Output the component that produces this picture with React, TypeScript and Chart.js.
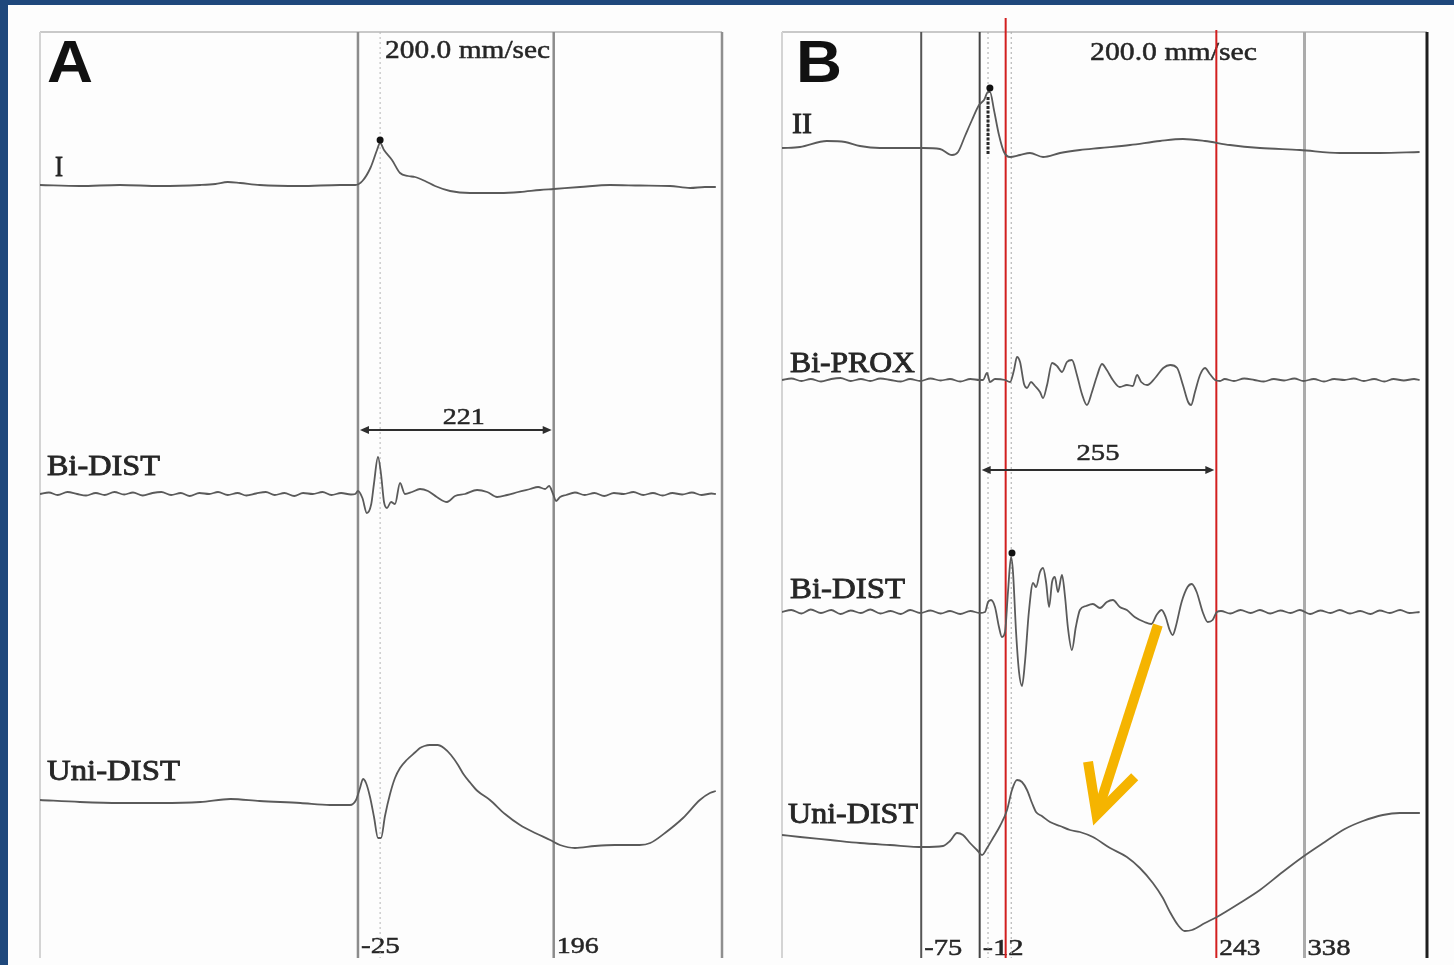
import React, { useEffect, useRef } from "react";
import { Chart, registerables } from "chart.js";

Chart.register(...registerables);

type Pt = [number, number]; // [time ms, amplitude]

// ---------------- Panel A ----------------
const A_TIME: [number, number] = [-384, 386];
const A_NAMES = ["I", "Bi-DIST", "Uni-DIST"];
const A_OFFSETS = [775, 466, 158];
const A_MARKS = [-25, 196];
const A_REF = [0];

const A_I: Pt[] = [
  [-384, 0], [-339, -1], [-294, 0], [-248, -1], [-203, 0], [-186, 1], [-172, 3], [-158, 2],
  [-136, 0], [-90, -1], [-45, 0], [-28, 0], [-20, 4], [-11, 17], [-3.5, 35], [0, 42],
  [4.4, 35], [13.4, 25], [22.5, 12], [31.5, 9], [39.4, 8], [50.7, 4], [62, -1], [79, -6],
  [101.5, -8], [135.4, -8], [158, -7], [180.5, -5], [196, -4], [225.7, -2], [259.6, 0],
  [293.4, -0.5], [327.3, -1], [350, -3], [366.8, -2], [379, -2],
];

const A_BI_DIST: Pt[] = [
  [-384, 0], [-374, 1.5], [-364, -1], [-353, 2], [-342, 0], [-332, -1.5], [-321, 1], [-311, -1],
  [-300, 2], [-289, -0.5], [-279, 1.5], [-268, -1.5], [-257, 1], [-247, 2], [-236, -1], [-225, 1],
  [-215, -2], [-204, 1], [-193, 0], [-183, 2], [-172, -1], [-161, 1], [-151, -1.5], [-140, 0.5],
  [-129, 2], [-119, -1], [-108, 1], [-97, -2], [-87, 1], [-76, 0], [-65, 2], [-55, -1], [-44, 1],
  [-33, -0.5], [-28, 0], [-25, 3], [-20, -4], [-15, -19], [-10, -10], [-7, 10], [-2.4, 37],
  [1, 20], [4.4, -8], [7.8, -14], [12.3, -8], [16.8, -10], [22.5, 11], [28, 0], [36, 2], [45, 5],
  [54, 3], [64, -3], [75.5, -8], [84.6, -2], [95.9, 0], [109.5, 4], [120.8, 2], [132, -3],
  [143.4, -1], [155.8, 2], [169.4, 5], [178.4, 7], [186.3, 5], [190.8, 8], [195.3, 0], [198.7, -7],
  [203.2, -3], [210, -1], [220, 1.5], [231, -1], [242, 1], [253, -2], [264, 1], [275, 0], [286, 2],
  [297, -1], [308, 1], [319, -1.5], [330, 1], [341, -0.5], [352, 1.5], [363, -1], [374, 0.5], [379, 0],
];

const A_UNI_DIST: Pt[] = [
  [-384, 2], [-339, 0], [-294, -1], [-248, -1], [-203, 0], [-169, 3], [-136, 1], [-90, -1],
  [-56.6, -3], [-34, -3], [-27.2, 2], [-22.7, 14], [-19.3, 23], [-15.9, 19], [-11.4, 5],
  [-6.9, -15], [-2.4, -36], [1, -36], [5.5, -14], [11.2, 8], [16.8, 24], [22.5, 34], [30, 42],
  [40, 50], [45, 54], [50, 56], [56, 57], [65, 57], [72, 54], [80, 47], [88, 37], [94, 28],
  [102, 19], [110, 11], [124, 2], [141, -12], [158, -23], [175, -31], [192, -38], [203, -43],
  [220, -46], [242.5, -44], [265, -43], [293, -43], [305, -41], [321.6, -31], [342, -16], [361, 2],
  [372.4, 9], [379, 11],
];

// ---------------- Panel B ----------------
const B_TIME: [number, number] = [-225, 470];
const B_NAMES = ["II", "Bi-PROX", "Bi-DIST", "Uni-DIST"];
const B_OFFSETS = [812, 580, 348, 115];
const B_MARKS = [-75, -12, 243, 338];
const B_RED = [16, 243];
const B_REF = [-3, 22];

const B_II: Pt[] = [
  [-225, 0], [-205.6, 1], [-176.7, 7], [-157, 6], [-141, 2], [-119.5, 0], [-73, 0], [-54.8, -1],
  [-41.8, -7], [-35.3, -4], [-27.8, 12], [-20.3, 28], [-12.7, 43], [-7.3, 48], [-3, 56], [-0.9, 56],
  [3.4, 38], [8.8, 13], [14.2, -4], [20.7, -9], [31.5, -7], [42.2, -5], [56.3, -9], [74.6, -5],
  [96, -2], [117.7, 0], [150, 3], [182.3, 7], [207, 9], [230.8, 7], [257.7, 3], [290, 0],
  [333, -2], [376, -5], [419, -5], [462, -4],
];

const B_BI_PROX: Pt[] = [
  [-225, 0], [-215, 1.5], [-204, -1], [-194, 1], [-183, -1.5], [-172, 1], [-162, 2], [-151, -1],
  [-140, 1], [-130, -1], [-119, 1.5], [-108, 0], [-97, -1.5], [-87, 1], [-76, -1], [-65, 1.5],
  [-54, -0.5], [-44, 1], [-33, -1.5], [-22, 1], [-12, 0], [-8.4, 0], [-4.1, 7], [-0.9, -2],
  [4.5, 1], [15.3, 0], [20.7, -2], [25, 10], [28.2, 23], [31.5, 18], [35.8, -4], [39, -8],
  [43.3, -2], [47.6, -6], [53, -12], [56.3, -18], [60.6, -5], [66, 17], [71.3, 14], [76.7, 8],
  [82, 18], [87.4, 20], [92.8, 5], [98.2, -14], [103.6, -25], [109, -12], [114.4, 4], [119.8, 16],
  [125, 10], [131.5, 0], [139, -7], [146.6, -5], [153, -6], [157.6, 5], [162, -2], [168.5, -5],
  [177, 2], [185.8, 12], [193.3, 15], [200.8, 12], [207, -5], [212.6, -22], [215.8, -25],
  [220, -12], [225.4, 5], [230.8, 12], [236, 6], [241.6, 0], [247, -1], [252, 1], [262, -1],
  [273, 1.5], [284, 0], [294, -1.5], [305, 1], [316, -0.5], [327, 1.5], [337, -1], [348, 1],
  [359, -1.5], [370, 1], [381, 0], [391, 1.5], [402, -1], [413, 1], [424, -1.5], [434, 1],
  [445, -0.5], [456, 1], [462, 0],
];

const B_BI_DIST: Pt[] = [
  [-225, 0], [-215, 2], [-204, -1.5], [-194, 2.5], [-183, -1], [-172, 2], [-162, -2], [-151, 1.5],
  [-140, -1], [-130, 2.5], [-119, -1.5], [-108, 1], [-97, -2], [-87, 2], [-76, -1], [-65, 1.5],
  [-54, -1.5], [-44, 1], [-33, -2], [-22, 1], [-12, -1], [-6.2, 0], [-3, 10], [0.2, 12], [4.5, 5],
  [8.8, -15], [12, -25], [15.3, -20], [18.5, 20], [21.8, 55], [23.9, 40], [27.2, -20], [30.4, -60],
  [33.6, -74], [36.8, -50], [41, 0], [45.5, 29], [48.7, 25], [53, 40], [56.3, 44], [59.5, 30],
  [62.8, 5], [66, 30], [69, 35], [72.3, 20], [76.7, 37], [80, 15], [83, -15], [87.4, -38],
  [91.6, -15], [96, 2], [102.5, 6], [110, 8], [117.6, 4], [125, 10], [131.5, 12], [139, 5],
  [146.6, 2], [155, -5], [165.6, -10], [173, -12], [178.6, -3], [184, 2], [188.4, -5], [192.7, -18],
  [196, -23], [199.2, -15], [205.6, 10], [212, 25], [216.5, 28], [221.8, 20], [228.3, 0],
  [233.7, -10], [239, -8], [243.6, 0], [248, 1], [258, -1.5], [269, 2], [280, -1], [290, 2],
  [301, -1.5], [312, 1.5], [323, -1], [333, 2], [344, -2], [355, 1.5], [366, -1], [376, 2],
  [387, -1.5], [398, 1], [409, -2], [419, 1.5], [430, -1], [441, 2], [451, -1], [462, 0],
];

const B_UNI_DIST: Pt[] = [
  [-225, 10], [-205.5, 8], [-173, 5], [-141, 2], [-108.7, 0], [-73, -2], [-51.5, -1], [-44, 4],
  [-36.4, 12], [-30, 10], [-22.4, 2], [-14.9, -5], [-9.5, -10], [-4, -3], [2.4, 7], [9.9, 19],
  [17.5, 35], [22.8, 55], [28.2, 65], [33.6, 63], [39, 55], [44.4, 42], [48.7, 33], [55, 29],
  [63.8, 23], [74.6, 19], [85.4, 15], [96, 13], [110, 8], [128.5, -3], [146.6, -12], [160.6, -23],
  [174.6, -38], [185.4, -53], [193, -67], [201.6, -80], [209, -86], [216.8, -85], [230.8, -78],
  [243.6, -72], [268.4, -58], [290, -45], [314.5, -27], [336, -12], [359.9, 3], [381.4, 16],
  [401, 24], [422.4, 30], [440.7, 32], [462.3, 32],
];

// ---------------- drawing helpers ----------------
const SERIF = '"Times New Roman", "Liberation Serif", serif';
const SANS = 'Arial, "Liberation Sans", sans-serif';
const TEXT = "#262626";
const TRACE = "#5a5a5a";

function fitText(
  ctx: CanvasRenderingContext2D,
  text: string,
  x: number,
  y: number,
  w: number,
  font: string,
  color = TEXT,
  center = false,
  weight = 0.5
) {
  ctx.save();
  ctx.font = font;
  ctx.textBaseline = "alphabetic";
  ctx.textAlign = "left";
  const m = ctx.measureText(text).width || 1;
  ctx.translate(x, y);
  ctx.scale(w / m, 1);
  ctx.fillStyle = color;
  ctx.fillText(text, center ? -m / 2 : 0, 0);
  if (weight > 0) {
    ctx.strokeStyle = color;
    ctx.lineWidth = weight;
    ctx.strokeText(text, center ? -m / 2 : 0, 0);
  }
  ctx.restore();
}

function vline(
  ctx: CanvasRenderingContext2D,
  x: number,
  y0: number,
  y1: number,
  color: string,
  width: number,
  dash: number[] = []
) {
  ctx.save();
  ctx.strokeStyle = color;
  ctx.lineWidth = width;
  ctx.setLineDash(dash);
  ctx.beginPath();
  ctx.moveTo(x, y0);
  ctx.lineTo(x, y1);
  ctx.stroke();
  ctx.restore();
}

function caliper(ctx: CanvasRenderingContext2D, x0: number, x1: number, y: number) {
  ctx.save();
  ctx.strokeStyle = "#2e2e2e";
  ctx.fillStyle = "#2e2e2e";
  ctx.lineWidth = 2;
  ctx.beginPath();
  ctx.moveTo(x0 + 4, y);
  ctx.lineTo(x1 - 4, y);
  ctx.stroke();
  ctx.beginPath();
  ctx.moveTo(x0, y);
  ctx.lineTo(x0 + 9, y - 4);
  ctx.lineTo(x0 + 9, y + 4);
  ctx.closePath();
  ctx.moveTo(x1, y);
  ctx.lineTo(x1 - 9, y - 4);
  ctx.lineTo(x1 - 9, y + 4);
  ctx.closePath();
  ctx.fill();
  ctx.restore();
}

interface ChannelSpec {
  name: string;
  offset: number;
  data: Pt[];
  labelDx: number;
  labelGap: number;
  labelW: number;
}

interface LineSpec {
  t: number;
  color: string;
  width: number;
  dash?: number[];
  top?: number;
  labelW?: number;
}

interface PanelSpec {
  time: [number, number];
  padLeft: number;
  padRight: number;
  canvasW: number;
  letter: string;
  letterDx: number;
  speedT: number;
  speedDx: number;
  speedY: number;
  speedW: number;
  rightFrame: { color: string; width: number };
  channels: ChannelSpec[];
  lines: LineSpec[];
  tickY: number;
  caliper: { from: number; to: number; y: number; labelY: number; labelDx: number; labelW: number };
  dots: { t: number; ch: number; a: number }[];
  after?: (chart: Chart) => void;
}

function decorPlugin(spec: PanelSpec) {
  return {
    id: "panelDecor",
    beforeDatasetsDraw(chart: Chart) {
      const ctx = chart.ctx;
      const { left, right, top, bottom } = chart.chartArea;
      const xs = chart.scales.x;
      const ys = chart.scales.y;
      const lineBottom = bottom - 2;

      // frame
      ctx.save();
      ctx.strokeStyle = "#c9c9c9";
      ctx.lineWidth = 2;
      ctx.beginPath();
      ctx.moveTo(left, top);
      ctx.lineTo(right, top);
      ctx.stroke();
      ctx.restore();
      vline(ctx, left, top, lineBottom, "#d4d4d4", 2);

      // texts
      fitText(ctx, spec.letter, left + spec.letterDx, top + 50, 46, `bold 60px ${SANS}`, "#111", false, 0);
      fitText(
        ctx,
        "200.0 mm/sec",
        xs.getPixelForValue(spec.speedT) + spec.speedDx,
        spec.speedY,
        spec.speedW,
        `26px ${SERIF}`
      );
      spec.channels.forEach((c) => {
        fitText(
          ctx,
          c.name,
          left + c.labelDx,
          ys.getPixelForValue(c.offset) - c.labelGap,
          c.labelW,
          `29px ${SERIF}`,
          TEXT,
          false,
          0.8
        );
      });
      spec.lines.forEach((l) => {
        if (l.labelW) {
          fitText(ctx, String(l.t), xs.getPixelForValue(l.t) + 3, spec.tickY, l.labelW, `24px ${SERIF}`);
        }
      });
      const cp = spec.caliper;
      const cx0 = xs.getPixelForValue(cp.from);
      const cx1 = xs.getPixelForValue(cp.to);
      fitText(
        ctx,
        String(cp.to - cp.from),
        (cx0 + cx1) / 2 + cp.labelDx,
        cp.labelY,
        cp.labelW,
        `24px ${SERIF}`,
        TEXT,
        true
      );

      // vertical markers
      spec.lines.forEach((l) => {
        vline(ctx, xs.getPixelForValue(l.t), l.top ?? top, lineBottom, l.color, l.width, l.dash ?? []);
      });
      vline(ctx, right, top, lineBottom, spec.rightFrame.color, spec.rightFrame.width);

      caliper(ctx, cx0 + 2, cx1 - 2, cp.y);
    },
    afterDatasetsDraw(chart: Chart) {
      const ctx = chart.ctx;
      const xs = chart.scales.x;
      const ys = chart.scales.y;
      spec.dots.forEach((d) => {
        ctx.save();
        ctx.fillStyle = "#111";
        ctx.beginPath();
        ctx.arc(
          xs.getPixelForValue(d.t),
          ys.getPixelForValue(spec.channels[d.ch].offset + d.a),
          3.5,
          0,
          Math.PI * 2
        );
        ctx.fill();
        ctx.restore();
      });
      if (spec.after) spec.after(chart);
    },
  };
}

function buildChart(canvas: HTMLCanvasElement, spec: PanelSpec) {
  return new Chart(canvas, {
    type: "scatter",
    data: {
      datasets: spec.channels.map((c) => ({
        label: c.name,
        data: c.data.map(([t, a]) => ({ x: t, y: a + c.offset })),
        showLine: true,
        borderColor: TRACE,
        borderWidth: 1.8,
        pointRadius: 0,
        cubicInterpolationMode: "monotone" as const,
        fill: false,
      })),
    },
    options: {
      responsive: false,
      animation: false,
      devicePixelRatio: 1,
      events: [],
      layout: { padding: { left: spec.padLeft, right: spec.padRight, top: 32, bottom: 5 } },
      scales: {
        x: { type: "linear", min: spec.time[0], max: spec.time[1], display: false },
        y: { type: "linear", min: 0, max: 928, display: false },
      },
      plugins: { legend: { display: false }, tooltip: { enabled: false } },
    },
    plugins: [decorPlugin(spec)],
  });
}

// yellow arrow in panel B (time, value) from the Bi-DIST late potential toward Uni-DIST
const ARROW_FROM: Pt = [180, 335];
const ARROW_TO: Pt = [114, 145];

const SPEC_A: PanelSpec = {
  time: A_TIME,
  padLeft: 40,
  padRight: 38,
  canvasW: 760,
  letter: "A",
  letterDx: 7,
  speedT: A_REF[0],
  speedDx: 5,
  speedY: 58,
  speedW: 165,
  rightFrame: { color: "#8f8f8f", width: 2.5 },
  channels: [
    { name: A_NAMES[0], offset: A_OFFSETS[0], data: A_I, labelDx: 15, labelGap: 9, labelW: 8 },
    { name: A_NAMES[1], offset: A_OFFSETS[1], data: A_BI_DIST, labelDx: 7, labelGap: 19, labelW: 113 },
    { name: A_NAMES[2], offset: A_OFFSETS[2], data: A_UNI_DIST, labelDx: 7, labelGap: 22, labelW: 133 },
  ],
  lines: [
    { t: A_REF[0], color: "#b5b5b5", width: 1, dash: [2, 3] },
    { t: A_MARKS[0], color: "#8c8c8c", width: 2.5, labelW: 39 },
    { t: A_MARKS[1], color: "#8c8c8c", width: 2.5, labelW: 42 },
  ],
  tickY: 953,
  caliper: { from: A_MARKS[0], to: A_MARKS[1], y: 430, labelY: 424, labelDx: 8, labelW: 42 },
  dots: [{ t: 0, ch: 0, a: 45 }],
};

const SPEC_B: PanelSpec = {
  time: B_TIME,
  padLeft: 22,
  padRight: 27,
  canvasW: 694,
  letter: "B",
  letterDx: 14,
  speedT: B_REF[0],
  speedDx: 102,
  speedY: 60,
  speedW: 167,
  rightFrame: { color: "#1e1e1e", width: 3 },
  channels: [
    { name: B_NAMES[0], offset: B_OFFSETS[0], data: B_II, labelDx: 10, labelGap: 15, labelW: 20 },
    { name: B_NAMES[1], offset: B_OFFSETS[1], data: B_BI_PROX, labelDx: 8, labelGap: 8, labelW: 125 },
    { name: B_NAMES[2], offset: B_OFFSETS[2], data: B_BI_DIST, labelDx: 8, labelGap: 14, labelW: 115 },
    { name: B_NAMES[3], offset: B_OFFSETS[3], data: B_UNI_DIST, labelDx: 6, labelGap: 22, labelW: 130 },
  ],
  lines: [
    { t: B_MARKS[0], color: "#555", width: 2, labelW: 38 },
    { t: B_MARKS[1], color: "#444", width: 2, labelW: 41 },
    { t: B_REF[0], color: "#a8a8a8", width: 1, dash: [2, 3] },
    { t: B_REF[1], color: "#a8a8a8", width: 1, dash: [2, 3] },
    { t: B_MARKS[3], color: "#ababab", width: 3, labelW: 43 },
    { t: B_RED[0], color: "#d21f1f", width: 2, top: 18 },
    { t: B_RED[1], color: "#d21f1f", width: 2, top: 30, labelW: 41 },
  ],
  tickY: 955,
  caliper: { from: B_MARKS[1], to: B_MARKS[2], y: 470, labelY: 460, labelDx: 0, labelW: 43 },
  dots: [
    { t: -1, ch: 0, a: 60 },
    { t: 22.8, ch: 2, a: 59 },
  ],
  after: (chart: Chart) => {
    const ctx = chart.ctx;
    const xs = chart.scales.x;
    const ys = chart.scales.y;
    // dense marker stroke on lead II at the reference time
    const mx = xs.getPixelForValue(B_REF[0]);
    vline(
      ctx,
      mx,
      ys.getPixelForValue(B_OFFSETS[0] + 51),
      ys.getPixelForValue(B_OFFSETS[0] - 7),
      "#2a2a2a",
      3,
      [3, 1.5]
    );
    // yellow arrow
    const x0 = xs.getPixelForValue(ARROW_FROM[0]);
    const y0 = ys.getPixelForValue(ARROW_FROM[1]);
    const x1 = xs.getPixelForValue(ARROW_TO[0]);
    const y1 = ys.getPixelForValue(ARROW_TO[1]);
    const ang = Math.atan2(y0 - y1, x0 - x1);
    const wing = 54;
    const spread = (27 * Math.PI) / 180;
    ctx.save();
    ctx.strokeStyle = "#f5b400";
    ctx.lineWidth = 10;
    ctx.lineCap = "butt";
    ctx.lineJoin = "miter";
    ctx.beginPath();
    ctx.moveTo(x0, y0);
    ctx.lineTo(x1 + 3 * Math.cos(ang), y1 + 3 * Math.sin(ang));
    ctx.stroke();
    ctx.beginPath();
    ctx.moveTo(x1 + wing * Math.cos(ang - spread), y1 + wing * Math.sin(ang - spread));
    ctx.lineTo(x1, y1);
    ctx.lineTo(x1 + wing * Math.cos(ang + spread), y1 + wing * Math.sin(ang + spread));
    ctx.stroke();
    ctx.restore();
  },
};

function Panel({ spec, left }: { spec: PanelSpec; left: number }) {
  const ref = useRef<HTMLCanvasElement | null>(null);
  useEffect(() => {
    if (!ref.current) return;
    const chart = buildChart(ref.current, spec);
    return () => chart.destroy();
  }, [spec]);
  return (
    <canvas
      ref={ref}
      width={spec.canvasW}
      height={965}
      style={{ position: "absolute", left, top: 0, width: spec.canvasW, height: 965 }}
    />
  );
}

export default function App() {
  return (
    <div
      style={{
        position: "fixed",
        left: 0,
        top: 0,
        width: 1454,
        height: 965,
        background: "#fdfdfd",
        overflow: "hidden",
      }}
    >
      <div style={{ position: "absolute", left: 0, top: 0, width: 1454, height: 5, background: "#1f487c" }} />
      <div style={{ position: "absolute", left: 0, top: 0, width: 8, height: 965, background: "#1f487c" }} />
      <Panel spec={SPEC_A} left={0} />
      <Panel spec={SPEC_B} left={760} />
    </div>
  );
}
